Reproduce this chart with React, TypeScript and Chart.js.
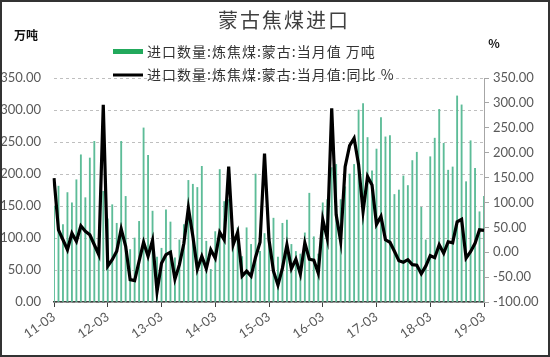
import React, { useEffect, useRef } from "react";
import { Chart, registerables } from "chart.js";

Chart.register(...registerables);

const titleText = "蒙古焦煤进口";
const leftUnit = "万吨";
const rightUnit = "%";
const barLabel = "进口数量:炼焦煤:蒙古:当月值 万吨";
const lineLabel = "进口数量:炼焦煤:蒙古:当月值:同比 %";

const months = [
  "11-03","11-04","11-05","11-06","11-07","11-08","11-09","11-10","11-11","11-12","12-01","12-02",
  "12-03","12-04","12-05","12-06","12-07","12-08","12-09","12-10","12-11","12-12","13-01","13-02",
  "13-03","13-04","13-05","13-06","13-07","13-08","13-09","13-10","13-11","13-12","14-01","14-02",
  "14-03","14-04","14-05","14-06","14-07","14-08","14-09","14-10","14-11","14-12","15-01","15-02",
  "15-03","15-04","15-05","15-06","15-07","15-08","15-09","15-10","15-11","15-12","16-01","16-02",
  "16-03","16-04","16-05","16-06","16-07","16-08","16-09","16-10","16-11","16-12","17-01","17-02",
  "17-03","17-04","17-05","17-06","17-07","17-08","17-09","17-10","17-11","17-12","18-01","18-02",
  "18-03","18-04","18-05","18-06","18-07","18-08","18-09","18-10","18-11","18-12","19-01","19-02",
  "19-03",
];

const yearTicks = ["11-03","12-03","13-03","14-03","15-03","16-03","17-03","18-03","19-03"];

const importVolume = [
  150,181,121,171,155,191,230,163,225,251,100,173,
  130,152,123,251,165,82,100,126,272,229,142,70,
  84,144,125,69,97,121,190,184,179,212,95,51,
  110,207,157,160,92,116,71,116,90,200,79,107,
  100,131,70,123,128,90,79,75,108,170,102,75,
  155,160,210,215,160,180,200,215,300,310,257,205,
  239,288,258,260,168,175,197,182,221,234,148,97,
  227,256,301,248,206,211,322,308,188,252,209,141,
  165,
];

const yoyChange = [
  149,45,25,5,38,22,53,42,35,15,-5,296,
  -28,-15,2,47,12,-55,-57,-18,20,-8,24,-79,
  -22,-5,0,-54,-25,18,89,32,-34,-8,-33,5,
  -12,40,25,172,15,40,-48,-38,-48,-10,20,198,
  25,-38,-66,-32,15,-33,-14,-44,19,-14,-16,-42,
  66,28,289,75,22,172,214,229,176,82,152,135,
  56,72,25,20,2,-17,-20,-15,-25,-26,-43,-28,
  -7,-11,15,-2,21,19,61,66,-12,1,18,45,
  44,
];

const W = 550;
const H = 357;
const PLOT_LEFT = 54;
const PLOT_RIGHT = 484;
const PLOT_TOP = 78;
const PLOT_BOTTOM = 302;

const tickFont = { family: 'Lato, "Noto Sans", sans-serif', size: 13 };
const cjk = '"Noto Sans CJK SC", "Noto Sans", sans-serif';

const overlay = {
  id: "overlay",
  beforeDraw(chart: any) {
    const ctx = chart.ctx;
    ctx.save();
    ctx.fillStyle = "#ffffff";
    ctx.fillRect(0, 0, W, H);
    ctx.restore();
  },
  afterDraw(chart: any) {
    const ctx = chart.ctx;
    ctx.save();
    ctx.fillStyle = "#404040";
    ctx.textBaseline = "middle";
    ctx.textAlign = "center";
    ctx.font = `20px ${cjk}`;
    (ctx as any).letterSpacing = "2px";
    ctx.fillText(titleText, 284, 20);
    (ctx as any).letterSpacing = "0px";

    ctx.fillStyle = "#111111";
    ctx.font = `bold 12px ${cjk}`;
    ctx.fillText(leftUnit, 26, 35);
    ctx.fillText(rightUnit, 494, 43);

    // legend
    ctx.fillStyle = "#22a95c";
    ctx.fillRect(113, 49, 30, 5);
    ctx.strokeStyle = "#000000";
    ctx.lineWidth = 3;
    ctx.beginPath();
    ctx.moveTo(113, 75);
    ctx.lineTo(143, 75);
    ctx.stroke();

    ctx.fillStyle = "#333333";
    ctx.textAlign = "left";
    ctx.font = `14px ${cjk}`;
    (ctx as any).letterSpacing = "1px";
    ctx.fillText(barLabel, 147, 52);
    ctx.fillText(lineLabel, 147, 75);
    (ctx as any).letterSpacing = "0px";

    // frame
    ctx.strokeStyle = "#333333";
    ctx.lineWidth = 2;
    ctx.strokeRect(1, 1, W - 2, H - 2);
    ctx.restore();
  },
};

export default function App() {
  const ref = useRef<HTMLCanvasElement | null>(null);

  useEffect(() => {
    if (!ref.current) return;
    const chart = new Chart(ref.current, {
      type: "bar",
      data: {
        labels: months,
        datasets: [
          {
            type: "line",
            label: lineLabel,
            data: yoyChange,
            yAxisID: "y1",
            borderColor: "#000000",
            backgroundColor: "#000000",
            borderWidth: 3.2,
            pointRadius: 0,
            tension: 0,
            order: 0,
          } as any,
          {
            type: "bar",
            label: barLabel,
            data: importVolume,
            yAxisID: "y",
            backgroundColor: "#5dbc98",
            barThickness: 1.2,
            order: 1,
          } as any,
        ],
      },
      options: {
        responsive: false,
        animation: false,
        devicePixelRatio: 1,
        layout: { padding: { top: PLOT_TOP, left: 0, right: 0, bottom: 0 } },
        plugins: {
          legend: { display: false },
          title: { display: false },
          tooltip: { enabled: false },
        },
        scales: {
          x: {
            offset: false,
            grid: {
              offset: false,
              drawOnChartArea: false,
              drawTicks: true,
              tickLength: 5,
              color: "#404040",
            },
            border: { display: true, color: "#404040", width: 1.5 },
            ticks: {
              autoSkip: false,
              maxRotation: 35,
              minRotation: 35,
              padding: 2,
              color: "#595959",
              font: tickFont,
              callback: (_v: any, i: number) =>
                yearTicks.includes(months[i]) ? months[i] : null,
            },
            afterFit: (s: any) => {
              s.height = H - PLOT_BOTTOM;
            },
          },
          y: {
            position: "left",
            min: 0,
            max: 350,
            grid: {
              drawTicks: false,
              color: "#bfbfbf",
              lineWidth: 1,
            },
            border: { display: false, dash: [3, 3] },
            ticks: {
              stepSize: 50,
              padding: 13,
              color: "#595959",
              font: tickFont,
              callback: (v: any) => Number(v).toFixed(2),
            },
            afterFit: (s: any) => {
              s.width = PLOT_LEFT;
            },
          },
          y1: {
            position: "right",
            min: -100,
            max: 350,
            grid: {
              drawOnChartArea: false,
              drawTicks: true,
              tickLength: 5,
              color: "#a6a6a6",
            },
            border: { display: true, color: "#a6a6a6", width: 1 },
            ticks: {
              stepSize: 50,
              padding: 4,
              color: "#595959",
              font: tickFont,
              callback: (v: any) => Number(v).toFixed(2),
            },
            afterFit: (s: any) => {
              s.width = W - PLOT_RIGHT;
            },
          },
        },
      },
      plugins: [overlay],
    } as any);
    return () => chart.destroy();
  }, []);

  return (
    <div style={{ position: "fixed", left: 0, top: 0, width: W, height: H, background: "#fff" }}>
      <canvas ref={ref} width={W} height={H} style={{ width: W, height: H, display: "block" }} />
    </div>
  );
}
